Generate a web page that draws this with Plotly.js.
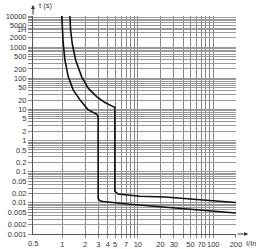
<!DOCTYPE html>
<html><head><meta charset="utf-8">
<script src="https://cdn.plot.ly/plotly-3.0.1.min.js"></script>
<style>html,body{margin:0;padding:0;background:#fff}#c{width:256px;height:249px}</style>
</head><body><div id="c"></div>
<script>
// Tripping curve (I/In vs t in seconds)
const lowerCurveX = [0.98, 0.994, 1.025, 1.079, 1.193, 1.39, 1.705, 2.20, 2.84, 2.98, 2.98, 3.14, 3.47, 7.83, 22.8, 66.2, 200];
const lowerCurveY = [10000, 3556, 1333, 388, 113, 42.4, 20.3, 9.7, 7.05, 5.9, 0.0136, 0.0117, 0.0111, 0.00904, 0.00736, 0.00589, 0.00472];
const upperCurveX = [1.257, 1.284, 1.348, 1.496, 1.796, 2.197, 2.84, 3.66, 4.48, 4.96, 4.96, 5.48, 10.6, 22.8, 66.2, 200];
const upperCurveY = [10000, 3556, 1333, 388, 113, 48.1, 25.9, 16.6, 13.0, 11.8, 0.0233, 0.0192, 0.0163, 0.0154, 0.0126, 0.0103];

// Tick labels
const yTickVals = [0.001,0.002,0.005,0.01,0.02,0.05,0.1,0.2,0.5,1,2,5,10,20,50,100,200,500,1000,2000,3600,5000,10000];
const yTickText = ["0.001","0.002","0.005","0.01","0.02","0.05","0.1","0.2","0.5","1","2","5","10","20","50","100","200","500","1000","2000","1H","5000","10000"];
const xTickVals = [1,2,3,4,5,7,10,20,30,50,70,100,200];
const xTickText = ["1","2","3","4","5","7","10","20","30","50","70","100","200"];

// grid positions (every digit of each decade)
function gridVals(lo, hi){ const v=[]; for(let e=lo;e<hi;e++){ for(let d=1;d<10;d++){ v.push(+(d*Math.pow(10,e)).toPrecision(3)); } } v.push(Math.pow(10,hi)); return v; }
const yGrid = gridVals(-3,4).concat([3600]).sort((a,b)=>a-b);
const xGrid = gridVals(0,2).concat([200]);
function labelFor(vals, tv, tt){ return vals.map(v=>{ const i=tv.findIndex(t=>Math.abs(t-v)/v<1e-6); return i>=0?tt[i]:""; }); }

const font = {family:"Liberation Sans, Arial, sans-serif", size:7.5, color:"#333"};
const traces = [
  {x:lowerCurveX, y:lowerCurveY, mode:"lines", line:{color:"#111", width:1.6, shape:"linear"}, hoverinfo:"skip"},
  {x:upperCurveX, y:upperCurveY, mode:"lines", line:{color:"#111", width:1.6, shape:"linear"}, hoverinfo:"skip"}
];
const layout = {
  width:256, height:249, margin:{l:33, r:20, t:16, b:15}, showlegend:false,
  paper_bgcolor:"#fff", plot_bgcolor:"#fff", font:font,
  xaxis:{type:"log", range:[-0.39, 2.302], tickmode:"array", tickvals:xGrid, ticktext:labelFor(xGrid,xTickVals,xTickText),
    showgrid:true, gridcolor:"#888", gridwidth:1, zeroline:false, showline:true, linecolor:"#555", linewidth:1,
    ticks:"outside", ticklen:3, tickcolor:"#888", tickangle:0, tickfont:font, fixedrange:true},
  yaxis:{type:"log", range:[-3, 4], tickmode:"array", tickvals:yGrid, ticktext:labelFor(yGrid,yTickVals,yTickText),
    showgrid:true, gridcolor:"#999", gridwidth:1, zeroline:false, showline:true, linecolor:"#555", linewidth:1,
    ticks:"outside", ticklen:4, tickcolor:"#888", tickfont:font, fixedrange:true},
  annotations:[
    {xref:"paper", yref:"paper", x:0, y:1.05, ax:0, ay:11, showarrow:true, arrowhead:2, arrowsize:0.8, arrowwidth:1, arrowcolor:"#333", text:""},
    {xref:"paper", yref:"paper", x:1.06, y:0, ax:-12, ay:0, showarrow:true, arrowhead:2, arrowsize:0.8, arrowwidth:1, arrowcolor:"#333", text:""},
    {xref:"paper", yref:"paper", x:0.02, y:1.046, xanchor:"left", yanchor:"middle", showarrow:false, text:"t (s)", font:font},
    {xref:"paper", yref:"paper", x:1.04, y:-0.013, xanchor:"left", yanchor:"top", showarrow:false, text:"I/In", font:font},
    {xref:"paper", yref:"paper", x:0, y:-0.013, xanchor:"center", yanchor:"top", showarrow:false, text:"0.5", font:font}
  ]
};
Plotly.newPlot("c", traces, layout, {staticPlot:true, displayModeBar:false});
</script></body></html>
